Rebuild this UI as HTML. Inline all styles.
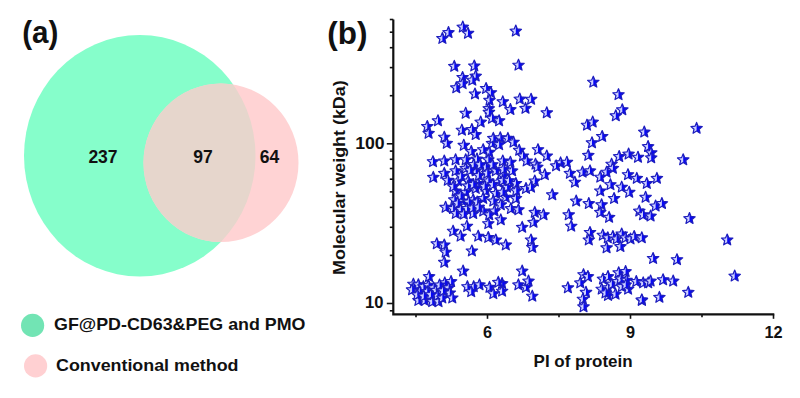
<!DOCTYPE html>
<html><head><meta charset="utf-8"><style>
html,body{margin:0;padding:0;background:#fff;width:800px;height:398px;overflow:hidden}
svg{display:block}
text{font-family:"Liberation Sans",sans-serif;font-weight:bold;fill:#111}
</style></head><body>
<svg width="800" height="398" viewBox="0 0 800 398">
<defs>
<clipPath id="lh"><rect x="-8" y="-8" width="8" height="16"/></clipPath>
<g id="s">
<path d="M0.00,-6.00 L1.59,-2.18 L5.71,-1.85 L2.57,0.83 L3.53,4.85 L0.00,2.70 L-3.53,4.85 L-2.57,0.83 L-5.71,-1.85 L-1.59,-2.18Z" fill="#0808f4"/>
<path d="M0.00,-6.00 L1.59,-2.18 L5.71,-1.85 L2.57,0.83 L3.53,4.85 L0.00,2.70 L-3.53,4.85 L-2.57,0.83 L-5.71,-1.85 L-1.59,-2.18Z" fill="#cdd0ff" clip-path="url(#lh)"/>
<path d="M0.00,-6.00 L1.59,-2.18 L5.71,-1.85 L2.57,0.83 L3.53,4.85 L0.00,2.70 L-3.53,4.85 L-2.57,0.83 L-5.71,-1.85 L-1.59,-2.18Z" fill="none" stroke="#1e1ebe" stroke-width="1.2" stroke-linejoin="round"/>
</g>
</defs>
<rect width="800" height="398" fill="#fff"/>
<!-- Venn -->
<ellipse cx="139.75" cy="155.75" rx="115.75" ry="120.75" fill="#86fecb"/>
<ellipse cx="221" cy="162.8" rx="77.5" ry="79.3" fill="#ffd3d4"/>
<clipPath id="gclip"><ellipse cx="139.75" cy="155.75" rx="115.75" ry="120.75"/></clipPath>
<ellipse cx="221" cy="162.8" rx="77.5" ry="79.3" fill="#e6d6cc" clip-path="url(#gclip)"/>
<text x="22.2" y="42.9" font-size="31" textLength="36.2" lengthAdjust="spacingAndGlyphs">(a)</text>
<text x="103" y="163" font-size="17.5" text-anchor="middle">237</text>
<text x="203" y="163" font-size="17.5" text-anchor="middle">97</text>
<text x="269.5" y="163" font-size="17.5" text-anchor="middle">64</text>
<circle cx="32.6" cy="325.4" r="11.6" fill="#72e4b4"/>
<circle cx="35.6" cy="365.9" r="11.6" fill="#ffd0d2"/>
<text x="54" y="330.2" font-size="16.5" textLength="251.5" lengthAdjust="spacingAndGlyphs">GF@PD-CD63&amp;PEG and PMO</text>
<text x="56" y="371.4" font-size="16.5" textLength="182.5" lengthAdjust="spacingAndGlyphs">Conventional method</text>
<!-- plot b -->
<text x="327.3" y="43.7" font-size="30.5" textLength="40.2" lengthAdjust="spacingAndGlyphs">(b)</text>
<g stroke="#111" stroke-width="1.6"><line x1="389.8" y1="310.8" x2="393.3" y2="310.8"/><line x1="386.8" y1="303.5" x2="393.3" y2="303.5"/><line x1="389.8" y1="255.4" x2="393.3" y2="255.4"/><line x1="389.8" y1="227.3" x2="393.3" y2="227.3"/><line x1="389.8" y1="207.4" x2="393.3" y2="207.4"/><line x1="389.8" y1="191.9" x2="393.3" y2="191.9"/><line x1="389.8" y1="179.2" x2="393.3" y2="179.2"/><line x1="389.8" y1="168.5" x2="393.3" y2="168.5"/><line x1="389.8" y1="159.3" x2="393.3" y2="159.3"/><line x1="389.8" y1="151.1" x2="393.3" y2="151.1"/><line x1="386.8" y1="143.8" x2="393.3" y2="143.8"/><line x1="389.8" y1="95.7" x2="393.3" y2="95.7"/><line x1="389.8" y1="67.6" x2="393.3" y2="67.6"/><line x1="389.8" y1="47.7" x2="393.3" y2="47.7"/><line x1="389.8" y1="32.2" x2="393.3" y2="32.2"/><line x1="389.8" y1="19.5" x2="393.3" y2="19.5"/><line x1="416.0" y1="314.3" x2="416.0" y2="317.3"/><line x1="487.5" y1="314.3" x2="487.5" y2="318.8"/><line x1="559.0" y1="314.3" x2="559.0" y2="317.3"/><line x1="630.5" y1="314.3" x2="630.5" y2="318.8"/><line x1="702.0" y1="314.3" x2="702.0" y2="317.3"/><line x1="773.5" y1="314.3" x2="773.5" y2="318.8"/></g>
<path d="M393.3,19.6 V314.3 H774.3" fill="none" stroke="#111" stroke-width="2.2"/>
<text x="384.7" y="148.5" font-size="16.6" text-anchor="end" textLength="29.5" lengthAdjust="spacingAndGlyphs">100</text>
<text x="383.4" y="308" font-size="16.6" text-anchor="end">10</text>
<text x="487.5" y="338" font-size="16.3" text-anchor="middle">6</text>
<text x="630.5" y="338" font-size="16.3" text-anchor="middle">9</text>
<text x="773.5" y="338" font-size="16.3" text-anchor="middle">12</text>
<text x="583.1" y="367.3" font-size="16.5" text-anchor="middle" textLength="99" lengthAdjust="spacingAndGlyphs">PI of protein</text>
<text transform="translate(344.8,177.65) rotate(-90)" font-size="16.2" text-anchor="middle" textLength="194.5" lengthAdjust="spacingAndGlyphs">Molecular weight (kDa)</text>
<g>
<use href="#s" x="448.5" y="32.6"/>
<use href="#s" x="442.4" y="38.5"/>
<use href="#s" x="462.8" y="27.1"/>
<use href="#s" x="468.0" y="33.3"/>
<use href="#s" x="515.8" y="31.1"/>
<use href="#s" x="518.5" y="65.2"/>
<use href="#s" x="454.3" y="66.4"/>
<use href="#s" x="474.3" y="66.0"/>
<use href="#s" x="462.6" y="77.5"/>
<use href="#s" x="475.7" y="76.1"/>
<use href="#s" x="472.3" y="80.2"/>
<use href="#s" x="456.3" y="87.8"/>
<use href="#s" x="462.6" y="83.7"/>
<use href="#s" x="475.0" y="94.0"/>
<use href="#s" x="486.1" y="88.5"/>
<use href="#s" x="490.9" y="92.7"/>
<use href="#s" x="489.5" y="100.3"/>
<use href="#s" x="488.8" y="108.6"/>
<use href="#s" x="465.7" y="113.3"/>
<use href="#s" x="488.9" y="112.3"/>
<use href="#s" x="502.8" y="101.8"/>
<use href="#s" x="519.8" y="99.1"/>
<use href="#s" x="531.1" y="99.3"/>
<use href="#s" x="510.4" y="109.6"/>
<use href="#s" x="525.5" y="108.4"/>
<use href="#s" x="546.8" y="112.8"/>
<use href="#s" x="593.3" y="82.2"/>
<use href="#s" x="618.5" y="94.7"/>
<use href="#s" x="622.3" y="109.8"/>
<use href="#s" x="615.8" y="115.8"/>
<use href="#s" x="489.3" y="152.3"/>
<use href="#s" x="438.0" y="120.8"/>
<use href="#s" x="427.3" y="126.5"/>
<use href="#s" x="428.6" y="133.4"/>
<use href="#s" x="444.3" y="137.2"/>
<use href="#s" x="446.8" y="143.4"/>
<use href="#s" x="461.9" y="130.2"/>
<use href="#s" x="471.9" y="129.6"/>
<use href="#s" x="475.7" y="134.6"/>
<use href="#s" x="480.7" y="122.1"/>
<use href="#s" x="492.0" y="118.3"/>
<use href="#s" x="463.8" y="145.3"/>
<use href="#s" x="471.3" y="151.6"/>
<use href="#s" x="483.2" y="149.7"/>
<use href="#s" x="492.0" y="143.4"/>
<use href="#s" x="493.3" y="138.4"/>
<use href="#s" x="433.0" y="161.7"/>
<use href="#s" x="444.3" y="161.0"/>
<use href="#s" x="455.6" y="159.8"/>
<use href="#s" x="465.7" y="159.8"/>
<use href="#s" x="477.0" y="159.1"/>
<use href="#s" x="488.3" y="159.8"/>
<use href="#s" x="499.1" y="120.8"/>
<use href="#s" x="587.0" y="125.2"/>
<use href="#s" x="592.7" y="122.1"/>
<use href="#s" x="592.0" y="142.8"/>
<use href="#s" x="588.3" y="155.4"/>
<use href="#s" x="500.3" y="137.8"/>
<use href="#s" x="507.9" y="138.4"/>
<use href="#s" x="513.5" y="142.2"/>
<use href="#s" x="499.1" y="144.7"/>
<use href="#s" x="519.2" y="150.3"/>
<use href="#s" x="522.9" y="156.0"/>
<use href="#s" x="538.0" y="149.7"/>
<use href="#s" x="546.8" y="156.0"/>
<use href="#s" x="526.7" y="161.0"/>
<use href="#s" x="510.4" y="162.3"/>
<use href="#s" x="502.8" y="161.0"/>
<use href="#s" x="560.6" y="162.9"/>
<use href="#s" x="566.9" y="162.3"/>
<use href="#s" x="535.5" y="164.2"/>
<use href="#s" x="602.2" y="136.5"/>
<use href="#s" x="644.3" y="132.1"/>
<use href="#s" x="648.1" y="146.6"/>
<use href="#s" x="651.2" y="152.8"/>
<use href="#s" x="651.2" y="157.9"/>
<use href="#s" x="619.2" y="156.6"/>
<use href="#s" x="628.6" y="154.1"/>
<use href="#s" x="638.0" y="157.3"/>
<use href="#s" x="611.6" y="164.2"/>
<use href="#s" x="683.2" y="159.8"/>
<use href="#s" x="696.6" y="128.4"/>
<use href="#s" x="537.3" y="167.1"/>
<use href="#s" x="544.8" y="174.7"/>
<use href="#s" x="534.8" y="181.0"/>
<use href="#s" x="556.1" y="165.9"/>
<use href="#s" x="569.9" y="173.4"/>
<use href="#s" x="574.9" y="182.2"/>
<use href="#s" x="582.5" y="172.2"/>
<use href="#s" x="590.0" y="170.9"/>
<use href="#s" x="552.3" y="194.8"/>
<use href="#s" x="576.2" y="201.1"/>
<use href="#s" x="588.8" y="203.6"/>
<use href="#s" x="568.7" y="214.8"/>
<use href="#s" x="571.2" y="226.2"/>
<use href="#s" x="590.0" y="232.5"/>
<use href="#s" x="588.8" y="240.0"/>
<use href="#s" x="433.3" y="177.4"/>
<use href="#s" x="444.3" y="173.4"/>
<use href="#s" x="447.8" y="180.3"/>
<use href="#s" x="455.6" y="170.9"/>
<use href="#s" x="465.7" y="168.4"/>
<use href="#s" x="475.7" y="170.9"/>
<use href="#s" x="485.8" y="167.1"/>
<use href="#s" x="495.8" y="170.9"/>
<use href="#s" x="503.3" y="175.9"/>
<use href="#s" x="512.1" y="170.9"/>
<use href="#s" x="515.9" y="183.5"/>
<use href="#s" x="526.0" y="188.5"/>
<use href="#s" x="531.0" y="187.2"/>
<use href="#s" x="458.1" y="181.0"/>
<use href="#s" x="468.2" y="181.0"/>
<use href="#s" x="478.2" y="183.5"/>
<use href="#s" x="488.3" y="181.0"/>
<use href="#s" x="498.3" y="182.2"/>
<use href="#s" x="507.1" y="187.2"/>
<use href="#s" x="455.6" y="191.0"/>
<use href="#s" x="465.7" y="192.3"/>
<use href="#s" x="475.7" y="188.5"/>
<use href="#s" x="485.8" y="191.0"/>
<use href="#s" x="495.8" y="193.5"/>
<use href="#s" x="505.8" y="197.3"/>
<use href="#s" x="515.9" y="198.5"/>
<use href="#s" x="445.6" y="207.3"/>
<use href="#s" x="454.3" y="199.8"/>
<use href="#s" x="453.1" y="208.6"/>
<use href="#s" x="463.1" y="201.1"/>
<use href="#s" x="473.2" y="199.8"/>
<use href="#s" x="483.2" y="198.5"/>
<use href="#s" x="493.3" y="201.1"/>
<use href="#s" x="500.8" y="204.8"/>
<use href="#s" x="510.9" y="208.6"/>
<use href="#s" x="518.4" y="209.8"/>
<use href="#s" x="473.2" y="213.6"/>
<use href="#s" x="483.2" y="211.1"/>
<use href="#s" x="494.5" y="211.1"/>
<use href="#s" x="466.9" y="226.2"/>
<use href="#s" x="488.3" y="223.7"/>
<use href="#s" x="500.8" y="219.9"/>
<use href="#s" x="522.2" y="227.4"/>
<use href="#s" x="534.8" y="212.4"/>
<use href="#s" x="543.5" y="214.8"/>
<use href="#s" x="533.5" y="222.4"/>
<use href="#s" x="453.1" y="231.2"/>
<use href="#s" x="460.6" y="236.2"/>
<use href="#s" x="478.2" y="236.2"/>
<use href="#s" x="488.3" y="237.5"/>
<use href="#s" x="495.8" y="240.0"/>
<use href="#s" x="505.8" y="245.0"/>
<use href="#s" x="531.0" y="240.0"/>
<use href="#s" x="532.3" y="247.5"/>
<use href="#s" x="436.8" y="243.8"/>
<use href="#s" x="444.3" y="245.0"/>
<use href="#s" x="612.9" y="168.4"/>
<use href="#s" x="606.6" y="172.2"/>
<use href="#s" x="600.3" y="177.2"/>
<use href="#s" x="628.0" y="174.7"/>
<use href="#s" x="636.8" y="178.4"/>
<use href="#s" x="646.8" y="183.5"/>
<use href="#s" x="656.9" y="178.4"/>
<use href="#s" x="610.4" y="184.7"/>
<use href="#s" x="621.7" y="187.2"/>
<use href="#s" x="629.2" y="192.3"/>
<use href="#s" x="600.3" y="191.0"/>
<use href="#s" x="614.1" y="198.5"/>
<use href="#s" x="645.6" y="197.3"/>
<use href="#s" x="655.6" y="206.1"/>
<use href="#s" x="661.9" y="203.6"/>
<use href="#s" x="601.6" y="204.8"/>
<use href="#s" x="600.3" y="212.4"/>
<use href="#s" x="609.1" y="217.4"/>
<use href="#s" x="639.3" y="211.1"/>
<use href="#s" x="643.0" y="214.8"/>
<use href="#s" x="650.6" y="216.1"/>
<use href="#s" x="689.5" y="218.6"/>
<use href="#s" x="727.2" y="240.0"/>
<use href="#s" x="602.8" y="235.2"/>
<use href="#s" x="607.8" y="237.8"/>
<use href="#s" x="612.9" y="236.5"/>
<use href="#s" x="616.6" y="239.0"/>
<use href="#s" x="621.7" y="234.0"/>
<use href="#s" x="625.4" y="237.8"/>
<use href="#s" x="630.5" y="239.0"/>
<use href="#s" x="634.2" y="236.5"/>
<use href="#s" x="641.8" y="237.8"/>
<use href="#s" x="606.6" y="247.8"/>
<use href="#s" x="620.4" y="246.6"/>
<use href="#s" x="471.9" y="251.0"/>
<use href="#s" x="445.6" y="252.2"/>
<use href="#s" x="444.3" y="262.3"/>
<use href="#s" x="463.1" y="271.1"/>
<use href="#s" x="522.2" y="271.1"/>
<use href="#s" x="429.1" y="276.6"/>
<use href="#s" x="413.4" y="284.2"/>
<use href="#s" x="418.4" y="284.8"/>
<use href="#s" x="423.4" y="286.7"/>
<use href="#s" x="428.5" y="285.4"/>
<use href="#s" x="433.5" y="287.9"/>
<use href="#s" x="412.1" y="289.8"/>
<use href="#s" x="419.7" y="291.7"/>
<use href="#s" x="427.2" y="291.7"/>
<use href="#s" x="436.0" y="290.4"/>
<use href="#s" x="444.8" y="282.9"/>
<use href="#s" x="451.1" y="281.6"/>
<use href="#s" x="448.6" y="287.9"/>
<use href="#s" x="449.8" y="293.0"/>
<use href="#s" x="452.3" y="298.0"/>
<use href="#s" x="418.4" y="300.5"/>
<use href="#s" x="424.7" y="300.5"/>
<use href="#s" x="432.2" y="301.7"/>
<use href="#s" x="438.5" y="301.7"/>
<use href="#s" x="437.3" y="295.5"/>
<use href="#s" x="442.3" y="298.0"/>
<use href="#s" x="467.4" y="286.7"/>
<use href="#s" x="473.7" y="286.7"/>
<use href="#s" x="471.2" y="291.7"/>
<use href="#s" x="479.5" y="284.9"/>
<use href="#s" x="489.5" y="287.4"/>
<use href="#s" x="493.3" y="293.7"/>
<use href="#s" x="502.1" y="283.6"/>
<use href="#s" x="502.1" y="291.2"/>
<use href="#s" x="498.3" y="282.4"/>
<use href="#s" x="518.4" y="284.9"/>
<use href="#s" x="526.0" y="287.4"/>
<use href="#s" x="528.5" y="281.1"/>
<use href="#s" x="532.3" y="296.2"/>
<use href="#s" x="567.9" y="287.8"/>
<use href="#s" x="583.5" y="274.7"/>
<use href="#s" x="587.9" y="276.6"/>
<use href="#s" x="580.3" y="282.9"/>
<use href="#s" x="586.0" y="292.3"/>
<use href="#s" x="582.9" y="299.2"/>
<use href="#s" x="583.5" y="306.8"/>
<use href="#s" x="603.0" y="279.1"/>
<use href="#s" x="608.0" y="276.6"/>
<use href="#s" x="618.7" y="272.8"/>
<use href="#s" x="625.6" y="271.6"/>
<use href="#s" x="601.7" y="289.2"/>
<use href="#s" x="608.0" y="287.9"/>
<use href="#s" x="611.8" y="284.2"/>
<use href="#s" x="617.4" y="281.6"/>
<use href="#s" x="621.8" y="286.7"/>
<use href="#s" x="628.1" y="289.2"/>
<use href="#s" x="608.0" y="295.5"/>
<use href="#s" x="615.5" y="294.2"/>
<use href="#s" x="605.5" y="293.0"/>
<use href="#s" x="636.3" y="281.6"/>
<use href="#s" x="643.2" y="282.9"/>
<use href="#s" x="648.2" y="282.9"/>
<use href="#s" x="641.9" y="300.5"/>
<use href="#s" x="653.1" y="258.5"/>
<use href="#s" x="677.0" y="259.7"/>
<use href="#s" x="734.7" y="276.1"/>
<use href="#s" x="688.3" y="292.4"/>
<use href="#s" x="659.4" y="297.4"/>
<use href="#s" x="641.8" y="299.9"/>
<use href="#s" x="673.2" y="281.1"/>
<use href="#s" x="663.1" y="279.8"/>
<use href="#s" x="650.6" y="281.1"/>
<use href="#s" x="473.7" y="164.6"/>
<use href="#s" x="480.2" y="164.7"/>
<use href="#s" x="492.4" y="164.7"/>
<use href="#s" x="470.1" y="170.3"/>
<use href="#s" x="503.5" y="169.3"/>
<use href="#s" x="461.1" y="176.2"/>
<use href="#s" x="478.9" y="175.5"/>
<use href="#s" x="487.2" y="173.3"/>
<use href="#s" x="502.7" y="180.6"/>
<use href="#s" x="509.0" y="180.7"/>
<use href="#s" x="453.3" y="186.6"/>
<use href="#s" x="468.0" y="186.0"/>
<use href="#s" x="473.2" y="184.5"/>
<use href="#s" x="484.6" y="186.3"/>
<use href="#s" x="492.9" y="184.6"/>
<use href="#s" x="502.5" y="192.3"/>
<use href="#s" x="516.2" y="190.8"/>
<use href="#s" x="460.6" y="196.0"/>
<use href="#s" x="457.7" y="203.3"/>
<use href="#s" x="468.7" y="202.2"/>
<use href="#s" x="477.2" y="202.1"/>
<use href="#s" x="460.8" y="209.5"/>
<use href="#s" x="467.0" y="208.5"/>
<use href="#s" x="472.4" y="208.0"/>
<use href="#s" x="478.7" y="207.2"/>
<use href="#s" x="455.8" y="213.5"/>
<use href="#s" x="463.8" y="214.2"/>
<use href="#s" x="489.2" y="214.9"/>
<use href="#s" x="439.6" y="285.0"/>
<use href="#s" x="443.1" y="290.9"/>
<use href="#s" x="417.3" y="294.9"/>
<use href="#s" x="423.8" y="296.2"/>
<use href="#s" x="430.9" y="294.7"/>
<use href="#s" x="620.5" y="279.0"/>
<use href="#s" x="626.5" y="280.3"/>
<use href="#s" x="625.7" y="284.9"/>
</g>
</svg>
</body></html>
